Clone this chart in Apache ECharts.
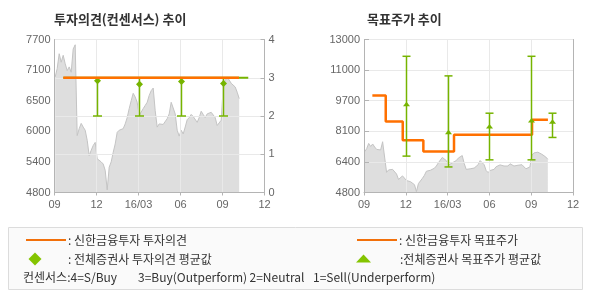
<!DOCTYPE html>
<html><head><meta charset="utf-8">
<script src="https://cdn.jsdelivr.net/npm/echarts@6/dist/echarts.min.js"></script>
<style>html,body{margin:0;padding:0;background:#fff}#c{width:590px;height:300px}</style>
</head><body><div id="c"></div>
<script>
// ---------- data ----------
const xTickLabels = ['09', '12', '16/03', '06', '09', '12'];
const leftPriceTickLabels = ['4800', '5400', '6000', '6500', '7100', '7700'];
const rightPriceTickLabels = ['4800', '6400', '8100', '9700', '11000', '13000'];
const opinionTickLabels = ['0', '1', '2', '3', '4'];

// stock price (months since 2015-09, sampled about every 4-5 days)
const priceStartMonth = 0.05;
const priceStepMonths = 1 / 7;
const priceValues = [
  6990, 7150, 7430, 7270, 7400, 7240, 7110, 7180, 7080, 7520,
  7600, 5880, 6010, 6110, 6040, 5980, 5790, 5500, 5600, 5690,
  5750, 5440, 5440, 5380, 5340, 5220, 4850, 5280, 5380, 5560,
  5720, 5940, 5980, 5990, 6010, 6100, 6220, 6390, 6540, 6680,
  6610, 6510, 6260, 6290, 6390, 6450, 6510, 6640, 6730, 6780,
  6350, 6040, 6100, 6070, 6090, 6110, 6200, 6290, 6510, 6490,
  6290, 5980, 5870, 5980, 5910, 6040, 6180, 6220, 6280, 6240,
  6220, 6130, 6220, 6340, 6280, 6220, 6290, 6260, 6320, 6290,
  6220, 6070, 6090, 6170, 6800, 6920, 6990, 6960, 6870, 6850,
  6800, 6700, 6580
];

// 신한금융투자 투자의견
const opinionMonths = [0.63, 13.18];
const opinionValues = [3, 3];
// 전체증권사 투자의견 (range + average)
const consensusLineMonths = [0.63, 13.84];
const consensusLineValues = [3, 3];
const consensusMonths = [3, 6, 9, 12];
const consensusLow = [2, 2, 2, 2];
const consensusHigh = [3, 3, 3, 3];
const consensusAvg = [2.92, 2.83, 2.90, 2.85];

// 신한금융투자 목표주가 (step line)
const targetMonths = [0.60, 1.56, 2.78, 4.26, 6.46, 12.06, 13.2];
const targetValues = [10000, 8600, 7600, 7000, 7900, 8700, 8700];
// 전체증권사 목표주가 (range + average)
const tpMonths = [3, 6, 9, 12, 13.5];
const tpHigh = [12100, 11050, 9050, 12100, 9050];
const tpLow = [6750, 6170, 6550, 6550, 7750];
const tpAvg = [9500, 8000, 8310, 8630, 8560];

// ---------- build ----------
const ORANGE = '#ff7000';
const GREEN = '#76b400';
const AXIS = '#b4b4b4';
const GRIDC = '#e9e9e9';
const LABEL = '#666';
const NUMFONT = 'Liberation Sans';
const KFONT = 'Noto Sans CJK KR';
const LEGFONT = '12px "Noto Sans CJK KR"';

const priceData = priceValues.map((v, i) => [priceStartMonth + i * priceStepMonths, v]);
const opinionData = opinionMonths.map((m, i) => [m, opinionValues[i]]);
const consensusLineData = consensusLineMonths.map((m, i) => [m, consensusLineValues[i]]);
const consensusData = consensusMonths.map((m, i) => [m, consensusLow[i], consensusHigh[i], consensusAvg[i]]);
const targetData = targetMonths.map((m, i) => [m, targetValues[i]]);
const tpData = tpMonths.map((m, i) => [m, tpLow[i], tpHigh[i], tpAvg[i]]);

function evenTicks(min, max, n) {
  const out = [];
  for (let i = 0; i <= n; i++) out.push(min + (max - min) * i / n);
  return out;
}
const leftPriceTicks = evenTicks(4800, 7700, leftPriceTickLabels.length - 1);
const rightPriceTicks = evenTicks(4800, 13000, rightPriceTickLabels.length - 1);

function xAxisFor(gridIndex) {
  return {
    type: 'value', gridIndex, min: 0, max: 15, interval: 3,
    axisLine: { lineStyle: { color: AXIS } },
    axisTick: { show: true, length: 3, lineStyle: { color: AXIS } },
    axisLabel: { color: LABEL, fontSize: 11, fontFamily: NUMFONT, margin: 7,
      formatter: v => xTickLabels[Math.round(v / 3)] },
    splitLine: { show: true, lineStyle: { color: GRIDC } }
  };
}

function errorBar(capHalf, marker) {
  return function (params, api) {
    const x = api.value(0);
    const pLo = api.coord([x, api.value(1)]);
    const pHi = api.coord([x, api.value(2)]);
    const pAv = api.coord([x, api.value(3)]);
    const cx = Math.round(pLo[0]) + 0.5;
    const style = { stroke: GREEN, lineWidth: 1.5 };
    const children = [
      { type: 'line', shape: { x1: cx, y1: pLo[1], x2: cx, y2: pHi[1] }, style },
      { type: 'line', shape: { x1: cx - capHalf, y1: pLo[1], x2: cx + capHalf, y2: pLo[1] }, style },
      { type: 'line', shape: { x1: cx - capHalf, y1: pHi[1], x2: cx + capHalf, y2: pHi[1] }, style }
    ];
    const y = pAv[1];
    let pts;
    if (marker === 'diamond') pts = [[cx, y - 3.5], [cx + 3.5, y], [cx, y + 3.5], [cx - 3.5, y]];
    else pts = [[cx, y - 3], [cx + 3.5, y + 1.5], [cx - 3.5, y + 1.5]];
    children.push({ type: 'polygon', shape: { points: pts }, style: { fill: GREEN } });
    return { type: 'group', children };
  };
}

const chart = echarts.init(document.getElementById('c'), null, { renderer: 'canvas' });
chart.setOption({
  animation: false,
  backgroundColor: '#fff',
  title: [
    { text: '투자의견(컨센서스) 추이', left: 54, top: 13, padding: 0,
      textStyle: { fontSize: 13, fontWeight: 'bold', color: '#333', fontFamily: KFONT } },
    { text: '목표주가 추이', left: 367, top: 13, padding: 0,
      textStyle: { fontSize: 13, fontWeight: 'bold', color: '#333', fontFamily: KFONT } }
  ],
  grid: [
    { left: 54.5, top: 39.5, width: 210, height: 153 },
    { left: 364, top: 39.5, width: 209, height: 153 }
  ],
  xAxis: [xAxisFor(0), xAxisFor(1)],
  yAxis: [
    { // left chart price axis
      type: 'value', gridIndex: 0, position: 'left', min: 4800, max: 7700,
      axisLine: { show: true, lineStyle: { color: AXIS } },
      axisTick: { show: false, customValues: leftPriceTicks },
      axisLabel: { color: LABEL, fontSize: 11, fontFamily: NUMFONT, margin: 4,
        customValues: leftPriceTicks,
        formatter: v => leftPriceTickLabels[leftPriceTicks.findIndex(t => Math.abs(t - v) < 1)] },
      splitLine: { show: false }
    },
    { // left chart opinion axis
      type: 'value', gridIndex: 0, position: 'right', min: 0, max: 4, interval: 1,
      axisLine: { show: true, lineStyle: { color: AXIS } },
      axisTick: { show: true, inside: true, length: 4, lineStyle: { color: AXIS } },
      axisLabel: { color: LABEL, fontSize: 11, fontFamily: NUMFONT, margin: 4,
        formatter: v => opinionTickLabels[Math.round(v)] },
      splitLine: { show: true, lineStyle: { color: GRIDC } }
    },
    { // right chart price axis
      type: 'value', gridIndex: 1, position: 'left', min: 4800, max: 13000,
      axisLine: { show: true, lineStyle: { color: AXIS } },
      axisTick: { show: true, inside: true, length: 5, customValues: rightPriceTicks, lineStyle: { color: AXIS } },
      axisLabel: { color: LABEL, fontSize: 11, fontFamily: NUMFONT, margin: 4,
        customValues: rightPriceTicks,
        formatter: v => rightPriceTickLabels[rightPriceTicks.findIndex(t => Math.abs(t - v) < 1)] },
      splitLine: { show: false }
    },
    { // right chart grid helper (5 equal bands)
      type: 'value', gridIndex: 1, position: 'right', min: 0, max: 5, interval: 1,
      axisLine: { show: true, lineStyle: { color: AXIS } },
      axisTick: { show: false }, axisLabel: { show: false },
      splitLine: { show: true, lineStyle: { color: GRIDC } }
    }
  ],
  series: [
    { type: 'line', xAxisIndex: 0, yAxisIndex: 0, data: priceData, symbol: 'none', z: -1,
      lineStyle: { color: '#c4c4c4', width: 1 }, areaStyle: { color: '#dedede', opacity: 1 } },
    { type: 'line', xAxisIndex: 0, yAxisIndex: 1, data: consensusLineData, symbol: 'none', z: 3,
      lineStyle: { color: GREEN, width: 2 } },
    { type: 'custom', xAxisIndex: 0, yAxisIndex: 1, data: consensusData, z: 4,
      encode: { x: 0, y: [1, 2, 3] }, renderItem: errorBar(4.5, 'diamond') },
    { type: 'line', xAxisIndex: 0, yAxisIndex: 1, data: opinionData, symbol: 'none', z: 5,
      lineStyle: { color: ORANGE, width: 2.5 } },

    { type: 'line', xAxisIndex: 1, yAxisIndex: 2, data: priceData, symbol: 'none', z: -1,
      lineStyle: { color: '#c4c4c4', width: 1 }, areaStyle: { color: '#dedede', opacity: 1 } },
    { type: 'line', xAxisIndex: 1, yAxisIndex: 2, data: targetData, step: 'end', symbol: 'none', z: 3,
      lineStyle: { color: ORANGE, width: 2.5 } },
    { type: 'custom', xAxisIndex: 1, yAxisIndex: 2, data: tpData, z: 4,
      encode: { x: 0, y: [1, 2, 3] }, renderItem: errorBar(4, 'triangle') }
  ],
  graphic: [
    { type: 'rect', shape: { x: 8.5, y: 227.5, width: 574, height: 62 },
      style: { fill: '#fafafa', stroke: '#dcdcdc', lineWidth: 1 }, z: -10 },
    { type: 'line', shape: { x1: 26, y1: 240, x2: 66, y2: 240 }, style: { stroke: '#f2700a', lineWidth: 2 } },
    { type: 'text', x: 68, y: 240.5, style: { text: ': 신한금융투자 투자의견', font: LEGFONT, fill: '#333', verticalAlign: 'middle' } },
    { type: 'line', shape: { x1: 357, y1: 240, x2: 397, y2: 240 }, style: { stroke: '#f2700a', lineWidth: 2 } },
    { type: 'text', x: 399, y: 240.5, style: { text: ': 신한금융투자 목표주가', font: LEGFONT, fill: '#333', verticalAlign: 'middle' } },
    { type: 'polygon', shape: { points: [[35, 252.5], [41.5, 259], [35, 265.5], [28.5, 259]] }, style: { fill: '#84c400' } },
    { type: 'text', x: 68, y: 259, style: { text: ': 전체증권사 투자의견 평균값', font: LEGFONT, fill: '#333', verticalAlign: 'middle' } },
    { type: 'polygon', shape: { points: [[363.5, 254.5], [371, 262.5], [356, 262.5]] }, style: { fill: '#84c400' } },
    { type: 'text', x: 400, y: 259, style: { text: ':전체증권사 목표주가 평균값', font: LEGFONT, fill: '#333', verticalAlign: 'middle' } },
    { type: 'text', x: 23, y: 277.5, style: { text: '컨센서스:4=S/Buy', font: LEGFONT, fill: '#333', verticalAlign: 'middle' } },
    { type: 'text', x: 138, y: 277.5, style: { text: '3=Buy(Outperform)', font: LEGFONT, fill: '#333', verticalAlign: 'middle' } },
    { type: 'text', x: 249.5, y: 277.5, style: { text: '2=Neutral', font: LEGFONT, fill: '#333', verticalAlign: 'middle' } },
    { type: 'text', x: 313, y: 277.5, style: { text: '1=Sell(Underperform)', font: LEGFONT, fill: '#333', verticalAlign: 'middle' } }
  ]
});
</script></body></html>
